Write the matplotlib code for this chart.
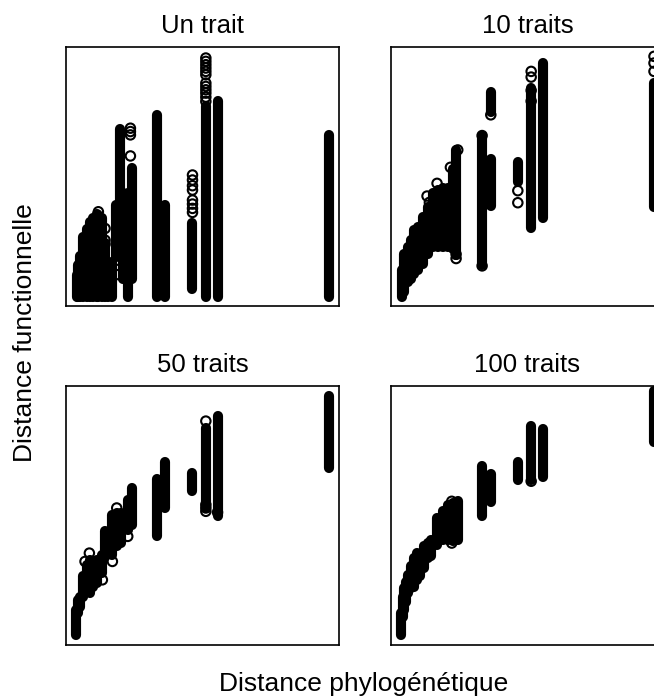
import matplotlib
matplotlib.use('Agg')
from matplotlib import pyplot as plt

plt.rcParams['font.family'] = ['Liberation Sans', 'DejaVu Sans']

titles = ['Un trait', '10 traits', '50 traits', '100 traits']

# each column of points: x, lowest y, highest y
x_1 = [787, 454, 419, 379, 298, 272, 199, 185, 172, 162, 150, 137, 127, 117, 107, 97, 92, 82, 72, 62, 52, 42, 37, 32]
lo_1 = [27, 27, 27, 52, 27, 27, 82, 27, 82, 147, 147, 27, 27, 27, 27, 27, 27, 27, 27, 27, 27, 27, 27, 27]
hi_1 = [512, 612, 597, 247, 302, 572, 412, 337, 337, 529, 302, 132, 132, 190, 262, 272, 275, 262, 252, 230, 207, 150, 122, 92]
open_x_1 = [419, 419, 419, 419, 419, 419, 419, 419, 419, 419, 419, 419, 379, 379, 379, 379, 379, 379, 379, 379, 193, 193, 193, 193, 157, 157, 117, 117, 117, 97]
open_y_1 = [742, 732, 722, 712, 702, 692, 667, 657, 647, 637, 625, 612, 392, 377, 360, 347, 317, 305, 292, 280, 532, 522, 512, 449, 137, 94, 232, 197, 185, 282]

x_2 = [788, 455, 420, 380, 299, 299, 273, 195, 185, 170, 155, 140, 125, 110, 95, 80, 70, 60, 50, 40, 32]
lo_2 = [297, 262, 234, 372, 580, 300, 124, 152, 172, 177, 177, 177, 177, 157, 127, 107, 97, 82, 72, 42, 27]
hi_2 = [667, 727, 652, 430, 640, 440, 510, 467, 410, 352, 352, 347, 337, 297, 267, 237, 227, 197, 177, 157, 107]
open_x_2 = [788, 788, 788, 420, 420, 420, 420, 380, 380, 195, 195, 273, 273, 138, 108, 115, 178, 200, 299]
open_y_2 = [747, 727, 702, 702, 685, 645, 613, 345, 309, 142, 155, 510, 120, 367, 329, 310, 415, 467, 572]

x_3 = [787, 454, 419, 379, 298, 272, 197, 187, 164, 152, 139, 127, 117, 107, 92, 82, 72, 62, 50, 42, 35, 30]
lo_3 = [530, 385, 410, 460, 410, 325, 360, 345, 305, 295, 270, 275, 265, 215, 185, 175, 155, 160, 145, 115, 95, 30]
hi_3 = [745, 685, 650, 515, 547, 498, 470, 435, 395, 395, 390, 335, 340, 270, 255, 250, 255, 240, 205, 145, 135, 105]
open_x_3 = [419, 419, 419, 419, 139, 70, 57, 109, 152, 185, 454]
open_y_3 = [670, 400, 410, 420, 250, 275, 250, 195, 410, 325, 397]

x_4 = [788, 455, 420, 380, 300, 273, 202, 185, 170, 155, 138, 120, 110, 100, 88, 77, 70, 60, 52, 45, 40, 35, 30]
lo_4 = [607, 503, 495, 495, 427, 387, 315, 310, 315, 315, 300, 265, 260, 230, 205, 195, 175, 170, 155, 130, 105, 85, 30]
hi_4 = [760, 645, 655, 548, 512, 537, 430, 425, 420, 400, 380, 315, 305, 295, 270, 275, 260, 235, 210, 190, 170, 145, 95]
open_x_4 = [182, 182, 420]
open_y_4 = [430, 305, 490]

panels = [
    (x_1, lo_1, hi_1, open_x_1, open_y_1),
    (x_2, lo_2, hi_2, open_x_2, open_y_2),
    (x_3, lo_3, hi_3, open_x_3, open_y_3),
    (x_4, lo_4, hi_4, open_x_4, open_y_4),
]

W, H = 654, 700
boxes = [(66, 47), (391, 47), (66, 386), (391, 386)]
box_w, box_h = 273, 259

fig = plt.figure(figsize=(W / 100, H / 100), dpi=100)

for (left, top), title, (x, lo, hi, ox, oy) in zip(boxes, titles, panels):
    ax = fig.add_axes([left / W, 1 - (top + box_h) / H, box_w / W, box_h / H])
    ax.vlines(x, lo, hi, color='black', linewidth=7.3, capstyle='round')
    ax.scatter(ox, oy, s=46, facecolors='none', edgecolors='black', linewidths=1.5, zorder=3)
    ax.set_xlim(0, 818)
    ax.set_ylim(0, 775)
    ax.set_xticks([])
    ax.set_yticks([])
    for spine in ax.spines.values():
        spine.set_linewidth(1.2)
    ax.set_title(title, fontsize=18.5, pad=10)

fig.text(364 / W, 1 - 684 / H, 'Distance phylogénétique', fontsize=19, ha='center', va='center')
fig.text(25 / W, 1 - 333 / H, 'Distance functionnelle', fontsize=19, rotation=90, ha='center', va='center')

fig.savefig('out.png', dpi=100)
